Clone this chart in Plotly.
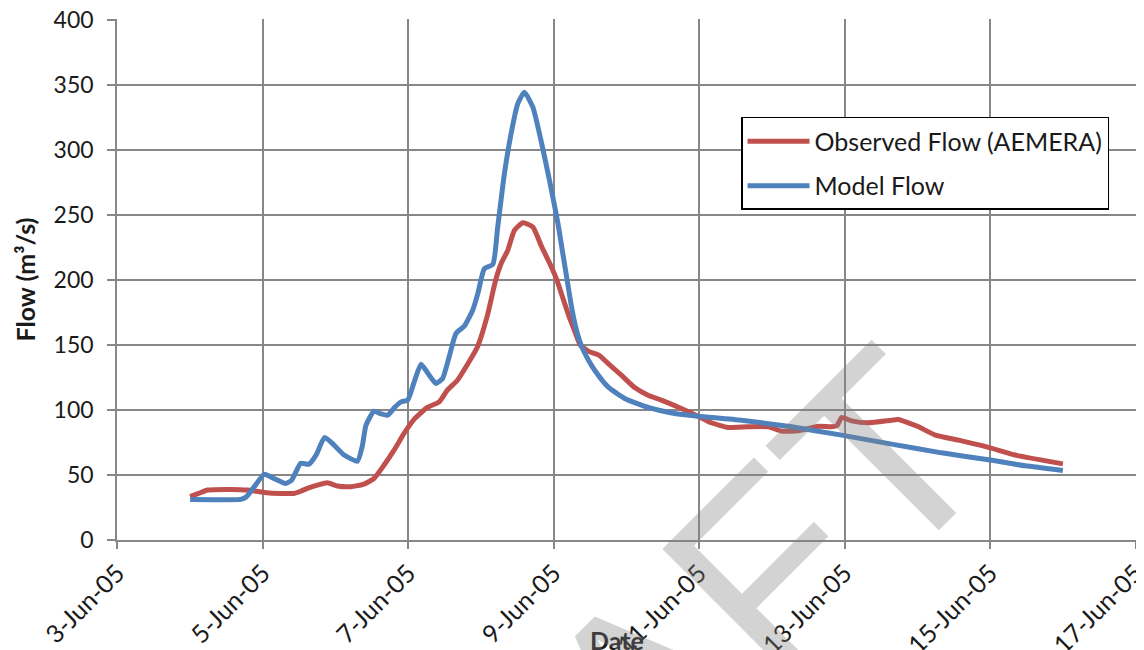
import pandas as pd
import plotly.graph_objects as go

# ---- data (hours after 4-Jun-2005 00:00, flow m3/s) ----
obs_hours = [0, 3, 5.8, 13.4, 18.9, 24.5, 29.9, 34.3, 36.5, 38.7, 42, 45.3, 48.6, 53, 57.4,
             60.7, 64, 67.3, 70.6, 73.9, 78.3, 82.2, 84.9, 88.2, 91.5, 94.8, 98.1, 100.8, 102.6,
             104.8, 107, 109.8, 113.1, 115.8, 118.8, 121, 123, 125, 127, 128.7, 131.5, 135,
             137.9, 142.3, 146.7, 151.1, 155.5, 162.1, 167.6, 172, 177.5, 184.1, 190.8, 195.2,
             200.7, 207.3, 211.7, 213.5, 215, 218.3, 223.8, 231.5, 233.7, 237, 240.4, 245.9,
             253.6, 262.9, 272.3, 281.1, 288]
obs_flow = [33.3, 36, 38.4, 38.9, 38.4, 36.6, 35.8, 35.8, 37.5, 39.7, 42.2, 44, 41.5, 41, 43,
            47.4, 57.6, 69.1, 81.9, 92.7, 101.9, 106.2, 115.2, 122.8, 134.9, 148.4, 172.7, 199.6, 212.4,
            222.6, 238, 243.9, 240.6, 226.5, 212, 200, 186, 172, 160, 150, 145, 142,
            135.7, 126.7, 117.2, 111.3, 107.5, 101.1, 95.2, 90.1, 86.5, 87, 87, 83.7,
            84, 87.5, 87, 88, 94.2, 91.6, 90.1, 92.1, 92.6, 90.1, 87, 80.6,
            76.8, 71.6, 65.3, 61.4, 58.5]

mod_hours = [0, 8, 16.7, 18.5, 21.5, 24.4, 27.5, 31.5, 33.5, 36.5, 39.2, 41.5, 44.4, 47.5, 50.8,
             55.2, 56.8, 58, 60.7, 63, 65.2, 67.5, 69.6, 71.8, 74, 76.2, 78.5, 81.1, 83.3, 85.5,
             87.7, 90.5, 93.3, 95, 97.1, 99.9, 101.5, 103.7, 105.9, 108.1, 110.3, 113.1, 115.8,
             118.6, 121.4, 123, 124.4, 125.8, 127.2, 129, 131.5, 133.5, 137.9, 143.4, 151.1,
             159.9, 167.6, 181.9, 198.5, 215, 231.5, 248, 262.9, 275.6, 288]
mod_flow = [31.2, 31.0, 31.2, 33, 42, 50.5, 47.5, 43.5, 46, 59, 58.3, 65, 78.8, 73, 65.3,
            60.6, 72, 88, 99, 97, 96, 102, 106.2, 107.5, 122, 135.1, 128, 120.3, 124.1, 141,
            158.7, 164.5, 177, 190, 208.6, 211.9, 240.6, 281.5, 312.2, 335.3, 344.2, 332.7, 307,
            276.4, 243.1, 220, 200, 180, 164, 150, 138, 130.5, 117.7, 108.8, 101.9,
            97.3, 95.2, 92.1, 87, 80.6, 73.7, 67, 61.9, 57, 53.5]

y_ticks = [0, 50, 100, 150, 200, 250, 300, 350, 400]

start = pd.Timestamp("2005-06-04 00:00")
obs_t = [start + pd.Timedelta(hours=h) for h in obs_hours]
mod_t = [start + pd.Timedelta(hours=h) for h in mod_hours]

tick_dates = pd.date_range("2005-06-03", "2005-06-17", freq="2D")
tick_text = [f"{d.day}-{d.strftime('%b')}-{d.strftime('%y')}" for d in tick_dates]

FONT = "Lato"
GRID = "#878787"
TXT = "#1a1a1a"

fig = go.Figure()
fig.add_trace(go.Scatter(x=obs_t, y=obs_flow, mode="lines", name="Observed Flow (AEMERA)",
                         line=dict(color="#C0504D", width=5, shape="spline", smoothing=0.5),
                         legendgroup="a"))
fig.add_trace(go.Scatter(x=mod_t, y=mod_flow, mode="lines", name="Model Flow",
                         line=dict(color="#4F81BD", width=5, shape="spline", smoothing=0.5),
                         legendgroup="b"))

x_lo = tick_dates[0] - pd.Timedelta(minutes=8)
x_hi = tick_dates[-1] + pd.Timedelta(minutes=8)

# page body has an 8px offset; margins compensate so the plot lands at x 117-1136, y 19-540
fig.update_layout(
    width=1144, height=650,
    margin=dict(l=109, r=16, t=11, b=118),
    paper_bgcolor="white", plot_bgcolor="white",
    font=dict(family=FONT, size=22, color=TXT),
    showlegend=True,
    legend=dict(x=0.6124, y=0.812, xanchor="left", yanchor="top",
                bordercolor="black", borderwidth=1.5, bgcolor="white",
                font=dict(family=FONT, size=25, color=TXT),
                itemwidth=62,
                traceorder="grouped", tracegroupgap=9),
    xaxis=dict(type="date", range=[x_lo, x_hi], automargin=False,
               tickvals=list(tick_dates), ticktext=tick_text, tickangle=-45,
               showgrid=True, gridcolor=GRID, gridwidth=1.5,
               showline=True, linecolor=GRID, linewidth=1.5,
               ticks="outside", ticklen=7, tickcolor=GRID, tickwidth=1.5,
               tickfont=dict(family=FONT, size=25, color=TXT), zeroline=False),
    yaxis=dict(range=[0, 400.5], tickvals=y_ticks, automargin=False,
               showgrid=True, gridcolor=GRID, gridwidth=1.5,
               showline=True, linecolor=GRID, linewidth=1.5,
               ticks="outside", ticklen=8, tickcolor=GRID, tickwidth=1.5,
               ticklabelstandoff=9, ticklabeloverflow="allow",
               tickfont=dict(family=FONT, size=23, color=TXT), zeroline=False),
)

fig.add_annotation(text="<b>Flow (m³/s)</b>", xref="paper", yref="paper",
                   x=-0.0903, y=0.5, xanchor="center", yanchor="middle",
                   textangle=-90, showarrow=False,
                   font=dict(family=FONT, size=25, color=TXT))
fig.add_annotation(text="<b>Date</b>", xref="paper", yref="paper",
                   x=0.491, y=-0.192, xanchor="center", yanchor="middle", showarrow=False,
                   font=dict(family=FONT, size=25, color=TXT))
# draft watermark
fig.add_annotation(text="DRAFT", xref="paper", yref="paper",
                   x=(627 - 117) / 1019, y=(540 - 712) / 521,
                   xanchor="center", yanchor="middle", textangle=-45, showarrow=False,
                   font=dict(family="Liberation Sans", size=265, color="rgba(128,128,128,0.35)"))

fig.write_html("out.html")
